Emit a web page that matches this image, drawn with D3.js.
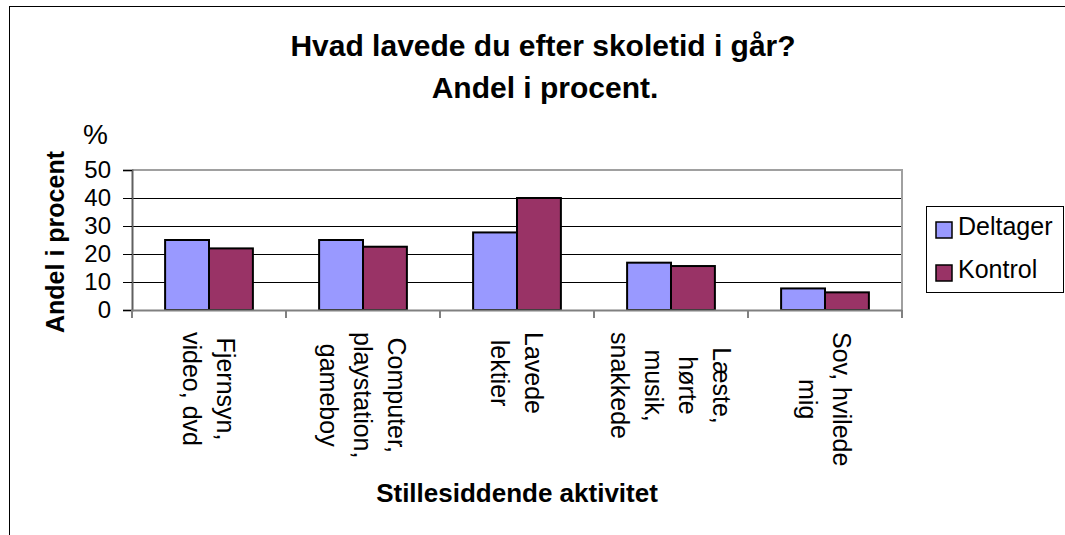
<!DOCTYPE html>
<html>
<head>
<meta charset="utf-8">
<script src="https://cdn.jsdelivr.net/npm/d3@7"></script>
<style>
  body { margin: 0; background: #fff; }
  svg { font-family: "Liberation Sans", Arial, sans-serif; }
</style>
</head>
<body>
<svg id="chart" width="1065" height="535"></svg>
<script>
// categories, line breaks as in the original labels
const categories = [
  "Fjernsyn,\nvideo, dvd",
  "Computer,\nplaystation,\ngameboy",
  "Lavede\nlektier",
  "Læste,\nhørte\nmusik,\nsnakkede",
  "Sov, hvilede\nmig"
];
const seriesNames = ["Deltager", "Kontrol"];
const deltager = [25, 25, 27.7, 16.9, 7.7];
const kontrol = [22, 22.6, 40, 15.7, 6.3];
const yTicks = [0, 10, 20, 30, 40, 50];
const colors = ["#9999ff", "#993366"];

const width = 1065, height = 535;
const plot = { left: 132, right: 902, top: 170, bottom: 310 };

const svg = d3.select("#chart");

// outer chart frame
svg.append("rect")
  .attr("x", 9.5).attr("y", 6.5)
  .attr("width", width + 10).attr("height", height + 10)
  .attr("fill", "none").attr("stroke", "#000").attr("stroke-width", 1);

const x = d3.scaleBand().domain(categories).range([plot.left, plot.right]).padding(0);
const groupW = x.bandwidth() * 0.57;
const xs = d3.scaleBand().domain(seriesNames).range([0, groupW]);
const y = d3.scaleLinear().domain([0, 50]).range([plot.bottom, plot.top]);

// title
svg.append("text")
  .attr("x", 543).attr("y", 56)
  .attr("text-anchor", "middle")
  .style("font-size", "30px").style("font-weight", "bold")
  .text("Hvad lavede du efter skoletid i går?");
svg.append("text")
  .attr("x", 545).attr("y", 98)
  .attr("text-anchor", "middle")
  .style("font-size", "30px").style("font-weight", "bold")
  .text("Andel i procent.");

svg.append("text")
  .attr("x", 83).attr("y", 144)
  .style("font-size", "28px")
  .text("%");

// gridlines
svg.append("g")
  .selectAll("line")
  .data(yTicks.filter(d => d > 0 && d < 50))
  .enter()
  .append("line")
  .attr("x1", plot.left).attr("x2", plot.right)
  .attr("y1", d => y(d) + 0.5).attr("y2", d => y(d) + 0.5)
  .attr("stroke", "#000").attr("stroke-width", 1);

// plot area border top / right
svg.append("path")
  .attr("d", `M${plot.left},${plot.top}H${plot.right}V${plot.bottom}`)
  .attr("fill", "none").attr("stroke", "#a0a0a0").attr("stroke-width", 2);

// bars
const rows = categories.map((c, i) => ({ cat: c, vals: [deltager[i], kontrol[i]] }));
const groups = svg.append("g")
  .selectAll("g")
  .data(rows)
  .enter()
  .append("g")
  .attr("transform", d => `translate(${x(d.cat) + (x.bandwidth() - groupW) / 2},0)`);

groups.selectAll("rect")
  .data(d => d.vals.map((v, j) => ({ name: seriesNames[j], v: v, j: j })))
  .enter()
  .append("rect")
  .attr("x", d => xs(d.name))
  .attr("width", xs.bandwidth())
  .attr("y", d => y(d.v))
  .attr("height", d => y(0) - y(d.v))
  .attr("fill", d => colors[d.j])
  .attr("stroke", "#000")
  .attr("stroke-width", 2);

// y axis
const yAxis = svg.append("g")
  .attr("transform", `translate(${plot.left},0)`)
  .call(d3.axisLeft(y).tickValues(yTicks).tickSize(9).tickPadding(12));
yAxis.select(".domain").attr("stroke", "#606060").attr("stroke-width", 2);
yAxis.selectAll(".tick line").attr("stroke", "#000");
yAxis.selectAll(".tick text")
  .style("font-size", "24px")
  .style("font-family", "Liberation Sans, Arial, sans-serif")
  .attr("fill", "#000");

// x axis baseline and category boundary ticks
svg.append("line")
  .attr("x1", plot.left).attr("x2", plot.right)
  .attr("y1", plot.bottom + 0.5).attr("y2", plot.bottom + 0.5)
  .attr("stroke", "#808080").attr("stroke-width", 2);
const bounds = categories.map(c => x(c)).concat([x(categories[categories.length - 1]) + x.bandwidth()]);
svg.append("g")
  .selectAll("line")
  .data(bounds)
  .enter()
  .append("line")
  .attr("x1", d => d).attr("x2", d => d)
  .attr("y1", plot.bottom).attr("y2", plot.bottom + 8)
  .attr("stroke", "#808080").attr("stroke-width", 2);

// category labels, rotated 90 degrees
const lineH = 34;
const labelTop = plot.bottom + 22;
categories.forEach(c => {
  const lines = c.split("\n");
  const g = svg.append("g")
    .attr("transform", `translate(${x(c) + x.bandwidth() / 2},${labelTop}) rotate(90)`);
  const texts = g.selectAll("text")
    .data(lines)
    .enter()
    .append("text")
    .attr("y", (d, j) => -(lines.length - 1) / 2 * lineH + j * lineH)
    .attr("dy", "0.35em")
    .attr("text-anchor", "middle")
    .style("font-size", "25px")
    .text(d => d);
  let maxLen = 0;
  texts.each(function() { maxLen = Math.max(maxLen, this.getComputedTextLength()); });
  texts.attr("x", maxLen / 2);
});

// axis titles
svg.append("text")
  .attr("transform", "translate(64,242) rotate(-90)")
  .attr("text-anchor", "middle")
  .style("font-size", "25px").style("font-weight", "bold")
  .text("Andel i procent");

svg.append("text")
  .attr("x", 517).attr("y", 502)
  .attr("text-anchor", "middle")
  .style("font-size", "26px").style("font-weight", "bold")
  .text("Stillesiddende aktivitet");

// legend
const legend = svg.append("g");
legend.append("rect")
  .attr("x", 926.5).attr("y", 206.5)
  .attr("width", 137).attr("height", 86)
  .attr("fill", "#fff").attr("stroke", "#000").attr("stroke-width", 1);
const items = legend.selectAll("g.item")
  .data(seriesNames)
  .enter()
  .append("g")
  .attr("class", "item")
  .attr("transform", (d, i) => `translate(936,${222 + i * 43})`);
items.append("rect")
  .attr("width", 16).attr("height", 16)
  .attr("fill", (d, i) => colors[i])
  .attr("stroke", "#000").attr("stroke-width", 1.5);
items.append("text")
  .attr("x", 22).attr("y", 13)
  .style("font-size", "25px")
  .text(d => d);
</script>
</body>
</html>
